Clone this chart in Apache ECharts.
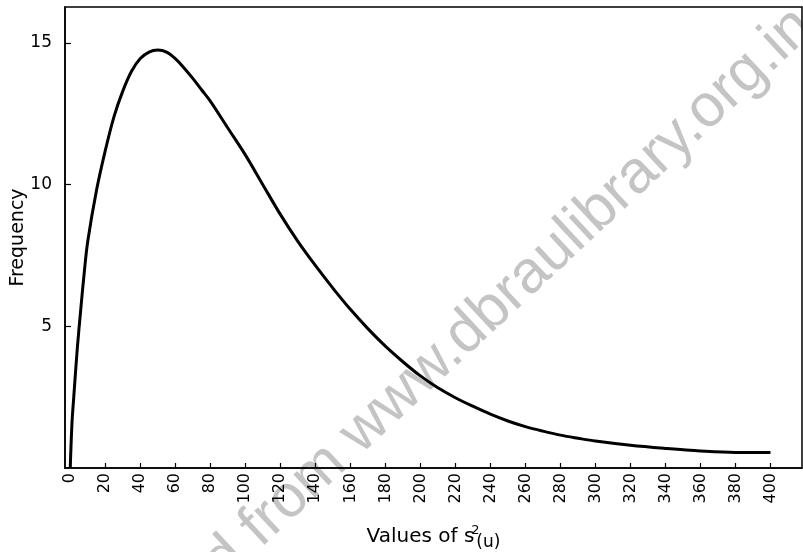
<!DOCTYPE html>
<html>
<head>
<meta charset="utf-8">
<script src="https://cdn.jsdelivr.net/npm/echarts@6/dist/echarts.min.js"></script>
<style>
  html, body { margin: 0; padding: 0; background: #fff; }
  #chart { width: 803px; height: 552px; }
</style>
</head>
<body>
<div id="chart"></div>
<script>
// values of s^2(u) and the frequency
const sValues = [0, 1, 2, 4, 6, 8, 10, 15, 20, 25, 30, 35, 40, 45, 50, 55, 60, 65, 70, 75, 80,
  90, 100, 110, 120, 130, 140, 150, 160, 170, 180, 190, 200, 210, 220, 230, 240, 250,
  260, 270, 280, 290, 300, 320, 340, 360, 380, 400];
const frequency = [0, 1.6, 2.5, 4.2, 5.6, 6.9, 8.0, 9.8, 11.2, 12.4, 13.3, 14.0, 14.45, 14.68,
  14.75, 14.68, 14.45, 14.12, 13.75, 13.35, 12.95, 12.0, 11.05, 10.0, 8.95, 8.0, 7.15, 6.35,
  5.6, 4.92, 4.3, 3.75, 3.25, 2.83, 2.48, 2.18, 1.9, 1.66, 1.46, 1.3, 1.16, 1.05, 0.95, 0.8,
  0.69, 0.6, 0.55, 0.55];

const xTicks = [0, 20, 40, 60, 80, 100, 120, 140, 160, 180, 200, 220, 240, 260, 280, 300,
  320, 340, 360, 380, 400];
const yTicks = [5, 10, 15];

const font = "DejaVu Sans";
const tilt = (43 * Math.PI) / 180;
const markFont = "60px 'Liberation Sans'";

const option = {
  animation: false,
  backgroundColor: "#fff",
  grid: {
    left: 65,
    right: 1,
    top: 7,
    bottom: 84,
    outerBoundsMode: "none",
    show: true,
    borderColor: "#000",
    borderWidth: 1.5,
  },
  graphic: [
    {
      // scan watermark, first word runs off the page
      type: "text",
      x: 270,
      y: 558,
      rotation: tilt,
      z: -1,
      silent: true,
      style: {
        text: "Downloaded ",
        font: markFont,
        fill: "#c4c4c4",
        textAlign: "right",
        textVerticalAlign: "bottom",
      },
    },
    {
      type: "text",
      x: 270,
      y: 558,
      rotation: tilt,
      z: -1,
      silent: true,
      style: {
        text: "from www.dbraulibrary.org.in",
        font: markFont,
        fill: "#c4c4c4",
        textAlign: "left",
        textVerticalAlign: "bottom",
      },
    },
  ],
  xAxis: {
    type: "value",
    min: -3,
    max: 418,
    name: "Values of s{sup|2}{sub|(u)}",
    nameLocation: "middle",
    nameGap: 54,
    nameMoveOverlap: false,
    nameTextStyle: {
      color: "#000",
      fontFamily: font,
      fontSize: 20,
      rich: {
        sup: { fontFamily: font, fontSize: 13, width: 2, padding: [0, 0, 12, 0], color: "#000" },
        sub: { fontFamily: font, fontSize: 17, padding: [12, 0, 0, 0], color: "#000" },
      },
    },
    splitLine: { show: false },
    axisLine: { onZero: false, lineStyle: { color: "#000", width: 1.5 } },
    axisTick: {
      inside: true,
      length: 5,
      customValues: xTicks,
      lineStyle: { color: "#000", width: 1.2 },
    },
    axisLabel: {
      customValues: xTicks,
      rotate: 90,
      margin: 5,
      color: "#000",
      fontFamily: font,
      fontSize: 16,
    },
  },
  yAxis: {
    type: "value",
    min: 0,
    max: 16.27,
    name: "Frequency",
    nameLocation: "middle",
    nameRotate: 90,
    nameGap: 37,
    nameMoveOverlap: false,
    nameTextStyle: { color: "#000", fontFamily: font, fontSize: 19 },
    splitLine: { show: false },
    axisLine: { onZero: false, lineStyle: { color: "#000", width: 1.5 } },
    axisTick: {
      inside: true,
      length: 6,
      customValues: yTicks,
      lineStyle: { color: "#000", width: 1.2 },
    },
    axisLabel: {
      customValues: yTicks,
      margin: 13,
      color: "#000",
      fontFamily: font,
      fontSize: 17,
    },
  },
  series: [
    {
      type: "line",
      data: sValues.map((s, i) => [s, frequency[i]]),
      smooth: 0.35,
      showSymbol: false,
      lineStyle: { color: "#000", width: 3 },
      z: 3,
    },
  ],
};

const chart = echarts.init(document.getElementById("chart"));
chart.setOption(option);
</script>
</body>
</html>
